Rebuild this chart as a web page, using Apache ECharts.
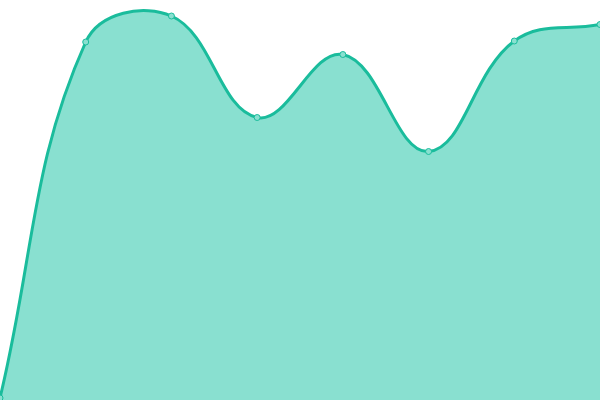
<!DOCTYPE html>
<html>
<head>
<meta charset="utf-8">
<script src="https://cdn.jsdelivr.net/npm/echarts@6/dist/echarts.min.js"></script>
<style>html,body{margin:0;padding:0;background:#fff}#c{width:600px;height:400px}</style>
</head>
<body>
<div id="c"></div>
<script>
const categories = ['A','B','C','D','E','F','G','H'];
const values = [2, 358, 384, 282.5, 345.5, 248.5, 359, 375.5];

const LINE = '#1abc9c';
const AREA = '#89e0d0';
const TENSION = 0.4;

function splinePath(pts) {
  // Cardinal-like spline (tension 0.4) through the projected points
  const cps = pts.map((p, i) => {
    const prev = pts[i - 1] || p, next = pts[i + 1] || p;
    const d01 = Math.hypot(p[0] - prev[0], p[1] - prev[1]);
    const d12 = Math.hypot(next[0] - p[0], next[1] - p[1]);
    let s01 = d01 / (d01 + d12), s12 = d12 / (d01 + d12);
    if (isNaN(s01)) s01 = 0; if (isNaN(s12)) s12 = 0;
    const fa = TENSION * s01, fb = TENSION * s12;
    return {
      prev: [p[0] - fa * (next[0] - prev[0]), p[1] - fa * (next[1] - prev[1])],
      next: [p[0] + fb * (next[0] - prev[0]), p[1] + fb * (next[1] - prev[1])]
    };
  });
  let d = 'M' + pts[0][0] + ' ' + pts[0][1];
  for (let i = 1; i < pts.length; i++) {
    const a = cps[i - 1].next, b = cps[i].prev, p = pts[i];
    d += ' C' + a[0] + ' ' + a[1] + ' ' + b[0] + ' ' + b[1] + ' ' + p[0] + ' ' + p[1];
  }
  return d;
}

const chart = echarts.init(document.getElementById('c'));
chart.setOption({
  animation: false,
  grid: {left: 0, right: 0, top: 0, bottom: 0},
  xAxis: {type: 'category', data: categories, boundaryGap: false, show: false},
  yAxis: {type: 'value', min: 0, max: 400, show: false},
  series: [{
    type: 'custom',
    data: [0],
    z: 1,
    renderItem: function (params, api) {
      const pts = values.map((v, i) => api.coord([i, v]));
      const base0 = api.coord([0, 0]), baseN = api.coord([values.length - 1, 0]);
      const line = splinePath(pts);
      const area = line + ' L' + baseN[0] + ' ' + baseN[1] + ' L' + base0[0] + ' ' + base0[1] + ' Z';
      return {
        type: 'group',
        children: [
          {type: 'path', shape: {pathData: area}, style: {fill: AREA, stroke: null}},
          {type: 'path', shape: {pathData: line}, style: {fill: null, stroke: LINE, lineWidth: 3}}
        ]
      };
    }
  }, {
    type: 'line',
    data: values,
    z: 3,
    symbol: 'circle',
    symbolSize: 6,
    itemStyle: {color: AREA, borderColor: LINE, borderWidth: 1},
    lineStyle: {width: 0, opacity: 0}
  }]
});
</script>
</body>
</html>
